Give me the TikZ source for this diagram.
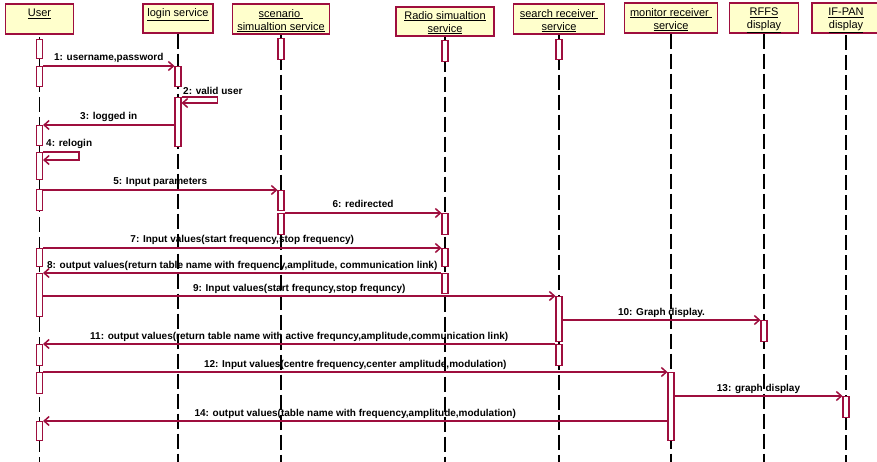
\documentclass[tikz,border=0pt]{standalone}
\usepackage{fontspec}
\setmainfont{Liberation Sans}
\newfontfamily\lblfont{Liberation Sans}
\usetikzlibrary{arrows.meta}
\definecolor{mar}{RGB}{158,14,62}
\definecolor{hdr}{RGB}{255,255,204}
\begin{document}
\begin{tikzpicture}[x=1pt,y=-1pt,
 head/.style={draw=mar, line width=1.3pt, fill=hdr, inner sep=0pt},
 htext/.style={anchor=north, align=center, inner sep=0pt, font=\fontsize{11}{13}\selectfont},
 life/.style={line width=1.7pt, dash pattern=on 15pt off 5pt},
 act/.style={draw=mar, fill=white, line width=1.1pt, minimum width=6pt, inner sep=0pt, anchor=north},
 msg/.style={draw=mar, line width=1.5pt, -{Straight Barb[length=5pt,width=9pt]}},
 lbl/.style={font=\lblfont\bfseries\fontsize{10}{12}\selectfont, inner sep=0pt, anchor=base, text=black}
]
\useasboundingbox[fill=white] (0,0) rectangle (877,462);
\coordinate (bot) at (0,462);
% headers
\node[head, minimum width=68pt, minimum height=30pt] (hU) at (39.5,19) {};
\node[head, minimum width=70pt, minimum height=29pt] (hL) at (178,18.5) {};
\node[head, minimum width=97pt, minimum height=30pt] (hS) at (281,19) {};
\node[head, minimum width=98pt, minimum height=29pt] (hR) at (445,21.5) {};
\node[head, minimum width=91pt, minimum height=30pt] (hQ) at (559,19) {};
\node[head, minimum width=93pt, minimum height=30pt] (hM) at (671,18) {};
\node[head, minimum width=69pt, minimum height=30pt] (hF) at (764,18) {};
\node[head, minimum width=70pt, minimum height=30pt] (hI) at (847,18) {};
\node[htext] (tU) at (39.5,9) {\underline{User}};
\node[htext] (tL) at (178,8) {\underline{login service}};
\node[htext] (tS) at (281,9) {\underline{scenario\ }\\\underline{simualtion service}};
\node[htext] (tR) at (445,11) {\underline{Radio simualtion}\\\underline{service}};
\node[htext] (tQ) at (559,9) {\underline{search receiver\ }\\\underline{service}};
\node[htext] (tM) at (671,8) {\underline{monitor receiver\ }\\\underline{service}};
\node[htext] (tF) at (764,8) {\underline{RFFS}\\\underline{display}};
\node[htext] (tI) at (846,8) {\underline{IF-PAN}\\\underline{display}};
% lifelines
\draw[life] (39.5,37) -- (39.5,462);
\draw[life] (hL.south) -- (hL.south |- bot);
\draw[life] (hS.south) -- (hS.south |- bot);
\draw[life] (hR.south) -- (hR.south |- bot);
\draw[life] (hQ.south) -- (hQ.south |- bot);
\draw[life] (hM.south) -- (hM.south |- bot);
\draw[life] (hF.south) -- (hF.south |- bot);
\draw[life] (846,35) -- (846,462);
% activation boxes
\node[act, minimum height=19pt] (u0) at (39.5,39) {};
\node[act, minimum height=20pt] (u1) at (39.5,66) {};
\node[act, minimum height=20pt] (u2) at (39.5,125) {};
\node[act, minimum height=27pt] (u3) at (39.5,152) {};
\node[act, minimum height=21pt] (u4) at (39.5,189) {};
\node[act, minimum height=18pt] (u5) at (39.5,248) {};
\node[act, minimum height=43pt] (u6) at (39.5,273) {};
\node[act, minimum height=21pt] (u7) at (39.5,344) {};
\node[act, minimum height=21pt] (u8) at (39.5,372) {};
\node[act, minimum height=19pt] (u9) at (39.5,421) {};
\node[act, minimum height=20pt] (l0) at (178,66) {};
\node[act, minimum height=49pt] (l1) at (178,97) {};
\node[act, minimum height=21pt] (s0) at (281,38) {};
\node[act, minimum height=20pt] (s1) at (281,190) {};
\node[act, minimum height=21pt] (s2) at (281,213) {};
\node[act, minimum height=21pt] (r0) at (445,40) {};
\node[act, minimum height=21pt] (r1) at (445,213) {};
\node[act, minimum height=18pt] (r2) at (445,248) {};
\node[act, minimum height=20pt] (r3) at (445,273) {};
\node[act, minimum height=20pt] (q0) at (559,39) {};
\node[act, minimum height=45pt] (q1) at (559,296) {};
\node[act, minimum height=21pt] (q2) at (559,344) {};
\node[act, minimum height=68pt] (m1) at (671,372) {};
\node[act, minimum height=21pt] (f1) at (764,320) {};
\node[act, minimum height=21pt] (i1) at (846,396) {};
% messages
\draw[msg] (u1.north east) -- node[lbl, yshift=5pt] {1: username,password} (l0.north west);
\draw[msg] (l1.north east) -- ++(36,0) -- ++(0,6) -- ++(-36,0);
\node[lbl, anchor=base west] (m2) at (183,94.5) {2: valid user};
\draw[msg] (l1.west |- u2.north) -- node[lbl, yshift=5pt] {3: logged in} (u2.north east);
\draw[msg] (u3.north east) -- ++(36,0) -- ++(0,8) -- ++(-36,0);
\node[lbl, anchor=base west] (m4) at (46,146.5) {4: relogin};
\draw[msg] (u4.east |- s1.north) -- node[lbl, yshift=5pt] {5: Input parameters} (s1.north west);
\draw[msg] (s2.north east) -- node[lbl, yshift=5pt] {6: redirected} (r1.north west);
\draw[msg] (u5.north east) -- node[lbl, yshift=5pt] {7: Input values(start frequency,stop frequency)} (r2.north west);
\draw[msg] (r3.north west) -- node[lbl, yshift=5pt] {8: output values(return table name with frequency,amplitude, communication link)} (u6.north east);
\draw[msg] (u6.east |- q1.north) -- node[lbl, yshift=5pt] {9: Input values(start frequncy,stop frequncy)} (q1.north west);
\draw[msg] (q1.east |- f1.north) -- node[lbl, yshift=5pt] {10: Graph display.} (f1.north west);
\draw[msg] (q2.north west) -- node[lbl, yshift=5pt] {11: output values(return table name with active frequncy,amplitude,communication link)} (u7.north east);
\draw[msg] (u8.north east) -- node[lbl, yshift=5pt] {12: Input values(centre frequency,center amplitude,modulation)} (m1.north west);
\draw[msg] (m1.east |- i1.north) -- node[lbl, yshift=5pt] {13: graph display} (i1.north west);
\draw[msg] (m1.west |- u9.north) -- node[lbl, yshift=5pt] {14: output values(table name with frequency,amplitude,modulation)} (u9.north east);
\end{tikzpicture}
\end{document}
